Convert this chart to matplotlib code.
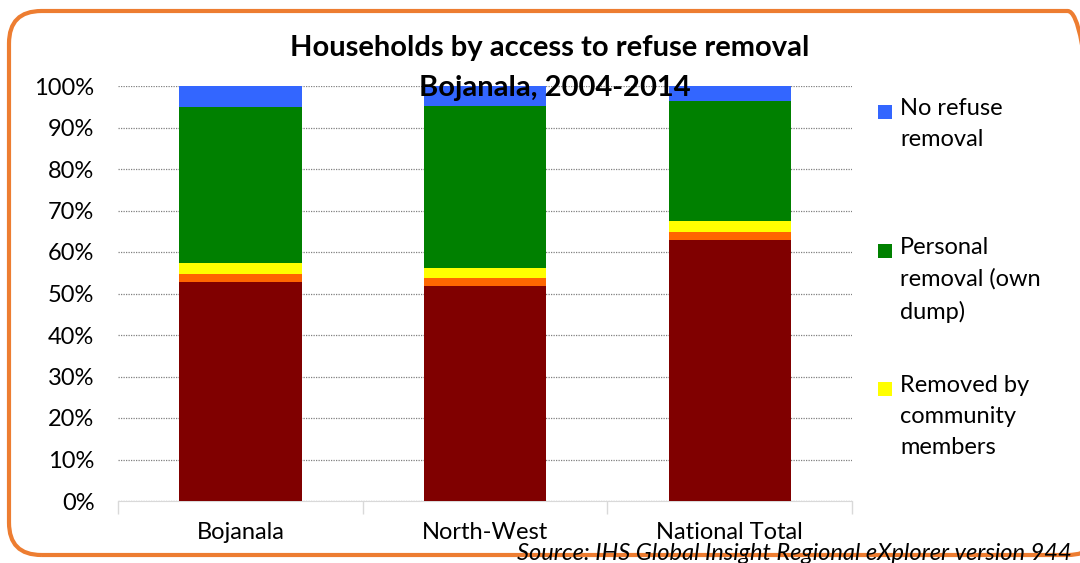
import matplotlib.pyplot as plt
from matplotlib.patches import FancyBboxPatch, Rectangle
import numpy as np

plt.rcParams["font.family"] = ["Lato", "DejaVu Sans"]

# Data (share of households, %)
regions = ["Bojanala", "North-West", "National Total"]
weekly_authority = [52.8, 51.9, 63.0]
less_often = [1.8, 1.8, 1.9]
community_members = [2.8, 2.4, 2.5]
personal_removal = [37.5, 39.2, 29.1]
no_removal = [5.1, 4.7, 3.5]

series = [
    ("Removed weekly by authority", weekly_authority, "#800000"),
    ("Removed less often than weekly by authority", less_often, "#FF6600"),
    ("Removed by community members", community_members, "#FFFF00"),
    ("Personal removal (own dump)", personal_removal, "#008000"),
    ("No refuse removal", no_removal, "#3366FF"),
]

W, H = 1080, 563
fig = plt.figure(figsize=(W / 100, H / 100), dpi=100)


def fx(px):
    return px / W


def fy(py):
    return 1 - py / H


# orange rounded frame
frame = FancyBboxPatch(
    (fx(9), fy(555)), fx(1100) - fx(9), fy(11) - fy(555),
    boxstyle="round,pad=0,rounding_size=0.03",
    transform=fig.transFigure, fill=False, edgecolor="#ED7D31", linewidth=3,
    mutation_aspect=W / H,
)
fig.add_artist(frame)

ax = fig.add_axes([fx(118), fy(501), fx(852) - fx(118), fy(86) - fy(501)])
x = np.arange(len(regions))
bottom = np.zeros(len(regions))
for name, vals, color in series:
    ax.bar(x, vals, 0.5, bottom=bottom, color=color, edgecolor="none", zorder=3)
    bottom += np.array(vals)

ax.set_xlim(-0.5, len(regions) - 0.5)
ax.set_ylim(0, 100)
ax.set_yticks(range(0, 101, 10))
ax.set_yticklabels([f"{v}%" for v in range(0, 101, 10)], fontsize=17)
ax.yaxis.grid(True, linestyle=(0, (1, 1)), color="#808080", linewidth=0.9, zorder=0)
ax.tick_params(axis="y", length=0, pad=17)
ax.set_xticks(x)
ax.set_xticklabels(regions, fontsize=17)
ax.tick_params(axis="x", length=0, pad=15)
# boundary ticks between categories
ax.set_xticks(np.arange(-0.5, len(regions)), minor=True)
ax.tick_params(axis="x", which="minor", length=9, color="#D9D9D9", width=1)
for s in ["top", "right", "left"]:
    ax.spines[s].set_visible(False)
ax.spines["bottom"].set_color("#D9D9D9")

fig.text(fx(550), fy(48), "Households by access to refuse removal",
         ha="center", va="center", fontsize=21, fontweight="bold")
fig.text(fx(555), fy(88), "Bojanala, 2004-2014",
         ha="center", va="center", fontsize=21, fontweight="bold")

# legend (only the top three series are visible in the original)
legend_items = [
    (series[4], 112, "No refuse\nremoval"),
    (series[3], 251, "Personal\nremoval (own\ndump)"),
    (series[2], 389, "Removed by\ncommunity\nmembers"),
]
for (name, vals, color), ypx, label in legend_items:
    fig.add_artist(Rectangle((fx(878), fy(ypx + 7)), fx(14), fy(0) - fy(14),
                             transform=fig.transFigure, facecolor=color, edgecolor="none"))
    fig.text(fx(900), fy(ypx - 14), label, ha="left", va="top", fontsize=17,
             linespacing=1.6)

fig.text(fx(1072), fy(553), "Source: IHS Global Insight Regional eXplorer version 944",
         ha="right", va="center", fontsize=17, style="italic")

fig.savefig("out.png", dpi=100)
